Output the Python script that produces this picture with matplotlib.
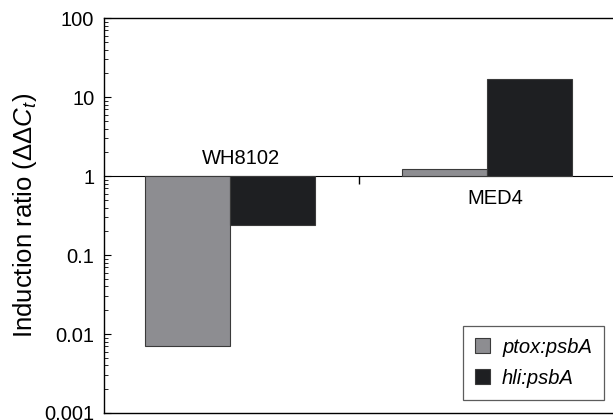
import matplotlib
matplotlib.use('Agg')
import matplotlib.pyplot as plt
import numpy as np

plt.rcParams['font.family'] = ['Liberation Sans', 'DejaVu Sans']
plt.rcParams['mathtext.fontset'] = 'custom'
plt.rcParams['mathtext.rm'] = 'Liberation Sans'
plt.rcParams['mathtext.it'] = 'Liberation Sans:italic'

# data
strains = ['WH8102', 'MED4']
ptox = [0.007, 1.23]
hli = [0.24, 17.0]
series_labels = ['ptox:psbA', 'hli:psbA']

GRAY = '#8d8d91'
BLACK = '#1e1f22'
EDGE = '#3a3a3a'

fig = plt.figure(figsize=(6.13, 4.2), dpi=100)
ax = fig.add_axes([0.1697, 0.0167, 0.835, 0.940])

x = np.arange(len(strains))
w = 0.33
base = 1.0
ax.bar(x - w / 2, np.array(ptox) - base, w, bottom=base, color=GRAY,
       edgecolor=EDGE, linewidth=0.8, label=series_labels[0], zorder=2)
ax.bar(x + w / 2, np.array(hli) - base, w, bottom=base, color=BLACK,
       edgecolor=EDGE, linewidth=0.8, label=series_labels[1], zorder=2)

ax.set_yscale('log')
ax.set_ylim(0.001, 100)
ax.set_xlim(-0.49, 1.5)
ax.set_yticks([0.001, 0.01, 0.1, 1, 10, 100])
ax.set_yticklabels(['0.001', '0.01', '0.1', '1', '10', '100'])
ax.tick_params(axis='y', which='major', direction='in', length=5, width=0.8,
               labelsize=14.5, pad=7)
ax.tick_params(axis='y', which='minor', direction='in', length=3, width=0.6)
ax.set_xticks([])
for s in ['left', 'top', 'bottom']:
    ax.spines[s].set_linewidth(1.0)
ax.spines['right'].set_visible(False)

# baseline axis at ratio = 1 with the separator tick
sec = ax.secondary_xaxis(0.6)
sec.set_xticks([0.5])
sec.set_xticklabels([])
sec.tick_params(direction='in', length=6, width=1.0)
sec.spines['bottom'].set_linewidth(1.2)

ax.annotate(strains[0], (x[0], base), xytext=(8, 6), textcoords='offset points',
            ha='center', va='bottom', fontsize=14.5)
ax.annotate(strains[1], (x[1], base), xytext=(6, -9), textcoords='offset points',
            ha='center', va='top', fontsize=14.5)

ax.set_ylabel(r'Induction ratio ($\Delta\Delta C_t$)', fontsize=18.5, labelpad=4)

leg = ax.legend(loc='lower right', bbox_to_anchor=(0.977, 0.033),
                borderaxespad=0,
                frameon=True, fancybox=False, edgecolor='#333333',
                handlelength=0.75, handleheight=0.75, handletextpad=0.6,
                borderpad=0.6, labelspacing=0.6,
                prop={'style': 'italic', 'size': 14.5})
leg.get_frame().set_linewidth(0.9)

fig.savefig('out.png', dpi=100, facecolor='white')
